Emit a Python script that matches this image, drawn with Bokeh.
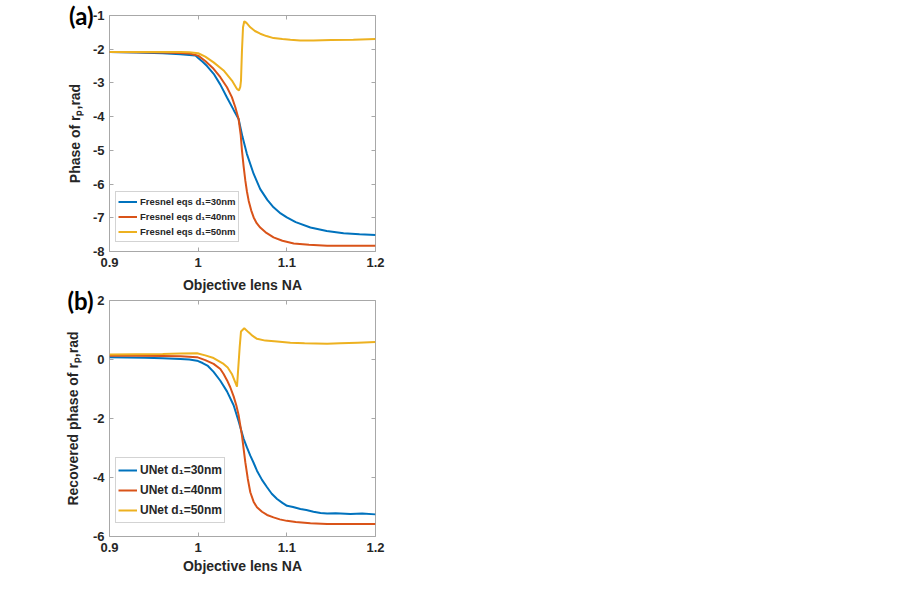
from bokeh.plotting import figure
from bokeh.models import LinearAxis, Legend, LegendItem, FixedTicker, Range1d
from bokeh.layouts import column
from bokeh.embed import file_html
from bokeh.resources import INLINE

# ---------------- data ----------------
x_ticks = [0.9, 1.0, 1.1, 1.2]
x_tick_labels = ["0.9", "1", "1.1", "1.2"]
ya_ticks = [-8, -7, -6, -5, -4, -3, -2, -1]
ya_tick_labels = ["-8", "-7", "-6", "-5", "-4", "-3", "-2", "-1"]
yb_ticks = [-6, -4, -2, 0, 2]
yb_tick_labels = ["-6", "-4", "-2", "0", "2"]
x_title = "Objective lens NA"

# (a) Fresnel equations
xa_30 = [0.90, 0.93, 0.96, 0.98, 0.99, 0.997, 1.000, 1.005, 1.010, 1.0175, 1.025, 1.0325, 1.040, 1.0456,
         1.050, 1.055, 1.0626, 1.070, 1.078, 1.085, 1.093, 1.100, 1.110, 1.1266, 1.145, 1.164, 1.182, 1.200]
ya_30 = [-2.08, -2.10, -2.12, -2.15, -2.17, -2.19, -2.26, -2.37, -2.50, -2.73, -3.05, -3.43, -3.80, -4.07,
         -4.60, -5.11, -5.70, -6.15, -6.47, -6.69, -6.87, -6.99, -7.13, -7.29, -7.39, -7.46, -7.49, -7.51]

xa_40 = [0.90, 0.93, 0.96, 0.98, 0.99, 1.000, 1.008, 1.0174, 1.025, 1.0325, 1.038, 1.0419, 1.0456, 1.048,
         1.0494, 1.0513, 1.0532, 1.055, 1.057, 1.0598, 1.0626, 1.066, 1.070, 1.077, 1.085, 1.095, 1.1078,
         1.125, 1.1454, 1.17, 1.20]
ya_40 = [-2.08, -2.09, -2.10, -2.11, -2.13, -2.19, -2.35, -2.58, -2.83, -3.13, -3.42, -3.72, -4.07, -4.55,
         -5.01, -5.48, -5.90, -6.22, -6.50, -6.78, -6.99, -7.16, -7.29, -7.45, -7.58, -7.68, -7.76,
         -7.80, -7.83, -7.83, -7.83]

xa_50 = [0.90, 0.93, 0.96, 0.98, 0.99, 1.000, 1.008, 1.0174, 1.0287, 1.0381, 1.0438, 1.046, 1.0475, 1.0483,
         1.0494, 1.0506, 1.052, 1.0545, 1.0588, 1.064, 1.070, 1.077, 1.085, 1.095, 1.104, 1.115, 1.13,
         1.15, 1.175, 1.20]
ya_50 = [-2.08, -2.08, -2.08, -2.08, -2.09, -2.12, -2.22, -2.39, -2.63, -2.93, -3.18, -3.22, -3.12, -2.93,
         -2.04, -1.35, -1.17, -1.22, -1.35, -1.46, -1.54, -1.61, -1.67, -1.70, -1.72, -1.74, -1.74,
         -1.73, -1.72, -1.70]

# (b) UNet recovered phase
xb_30 = [0.90, 0.92, 0.94, 0.96, 0.98, 0.990, 0.9987, 1.005, 1.011, 1.0174, 1.025, 1.0325, 1.040, 1.0457,
         1.0513, 1.0550, 1.0588, 1.0625, 1.0663, 1.072, 1.0777, 1.083, 1.089, 1.095, 1.1002, 1.107, 1.1153,
         1.122, 1.130, 1.138, 1.1454, 1.155, 1.1717, 1.185, 1.200]
yb_30 = [0.08, 0.07, 0.06, 0.04, 0.02, 0.00, -0.04, -0.12, -0.22, -0.42, -0.72, -1.08, -1.55, -2.10,
         -2.69, -2.98, -3.26, -3.50, -3.77, -4.08, -4.33, -4.55, -4.73, -4.86, -4.96, -5.00, -5.07,
         -5.10, -5.16, -5.20, -5.22, -5.21, -5.24, -5.22, -5.25]

xb_40 = [0.90, 0.93, 0.96, 0.98, 0.9987, 1.008, 1.0174, 1.025, 1.0287, 1.0325, 1.0362, 1.040, 1.043, 1.0457,
         1.0494, 1.0532, 1.056, 1.0588, 1.0625, 1.0663, 1.072, 1.0777, 1.085, 1.092, 1.100, 1.110, 1.1266,
         1.1454, 1.17, 1.20]
yb_40 = [0.13, 0.13, 0.12, 0.11, 0.08, -0.02, -0.15, -0.32, -0.49, -0.70, -0.94, -1.25, -1.55, -1.90,
         -2.58, -3.49, -4.05, -4.50, -4.82, -5.01, -5.16, -5.27, -5.35, -5.42, -5.47, -5.51, -5.55,
         -5.58, -5.58, -5.58]

xb_50 = [0.90, 0.93, 0.96, 0.98, 0.9987, 1.008, 1.0174, 1.0287, 1.0333, 1.038, 1.0438, 1.0468, 1.0483,
         1.052, 1.0569, 1.0615, 1.0663, 1.0757, 1.089, 1.104, 1.12, 1.1454, 1.16, 1.18, 1.20]
yb_50 = [0.17, 0.18, 0.19, 0.20, 0.21, 0.14, 0.05, -0.15, -0.27, -0.49, -0.92, 0.41, 0.95,
         1.06, 0.92, 0.80, 0.70, 0.64, 0.61, 0.57, 0.55, 0.53, 0.55, 0.57, 0.59]

labels_a = ["Fresnel eqs d\u2081=30nm", "Fresnel eqs d\u2081=40nm", "Fresnel eqs d\u2081=50nm"]
labels_b = ["UNet d\u2081=30nm", "UNet d\u2081=40nm", "UNet d\u2081=50nm"]
colors = ["#0072BD", "#D95319", "#EDB120"]

# ---------------- styling ----------------
FONT = "Liberation Sans"
TXT = "#262626"
BOX = "#a8a8a8"


def style_axes(p, yticks, ylabels, ylabel, panel_tag, bottom_title, top_title):
    p.xaxis.ticker = FixedTicker(ticks=x_ticks)
    p.xaxis.major_label_overrides = {t: s for t, s in zip(x_ticks, x_tick_labels)}
    p.yaxis.ticker = FixedTicker(ticks=yticks)
    p.yaxis.major_label_overrides = {t: s for t, s in zip(yticks, ylabels)}
    p.xaxis.axis_label = bottom_title
    for ax in (p.xaxis[0], p.yaxis[0]):
        ax.axis_line_color = None
        ax.major_tick_in = 4
        ax.major_tick_out = 0
        ax.major_tick_line_color = BOX
        ax.minor_tick_line_color = None
        ax.major_label_text_font = FONT
        ax.major_label_text_font_style = "bold"
        ax.major_label_text_font_size = "13px"
        ax.major_label_text_color = TXT
        ax.axis_label_text_font = FONT
        ax.axis_label_text_font_style = "bold"
        ax.axis_label_text_font_size = "14px"
        ax.axis_label_text_color = TXT
    p.xaxis.major_label_standoff = 6
    p.xaxis.axis_label_standoff = 3
    p.yaxis.major_label_standoff = 5
    # mirrored inward ticks on top / right (MATLAB "box on"), no tick labels.
    # The top axis of the lower panel carries the x title of the upper panel.
    for side, ticks, title in (("above", x_ticks, top_title), ("right", yticks, None)):
        ax = LinearAxis(ticker=FixedTicker(ticks=ticks),
                        major_label_overrides={t: "" for t in ticks},
                        major_label_text_color=None, major_label_text_font_size="1px",
                        major_label_standoff=0, axis_line_color=None, major_tick_in=4,
                        major_tick_out=0, major_tick_line_color=BOX, minor_tick_line_color=None,
                        axis_label=title, axis_label_standoff=8,
                        axis_label_text_font=FONT, axis_label_text_font_style="bold",
                        axis_label_text_font_size="14px", axis_label_text_color=TXT)
        p.add_layout(ax, side)
    # outer left axis: carries the panel tag "(a)"/"(b)" at the top tick and the y-axis title
    top = yticks[-1]
    tag = LinearAxis(ticker=FixedTicker(ticks=[top]), major_label_overrides={top: panel_tag},
                     major_label_text_font="Lato", major_label_text_font_style="bold",
                     major_label_text_font_size="24px", major_label_text_color="black",
                     major_label_standoff=-4, axis_line_color=None, major_tick_line_color=None,
                     minor_tick_line_color=None, major_tick_in=0, major_tick_out=0,
                     axis_label=ylabel, axis_label_standoff=-17,
                     axis_label_text_font=FONT, axis_label_text_font_style="bold",
                     axis_label_text_font_size="14px", axis_label_text_color=TXT)
    p.add_layout(tag, "left")
    p.grid.visible = False
    p.outline_line_color = BOX
    p.outline_line_width = 1


def add_legend(p, renderers, labels, font_size, row_h, loc):
    items = [LegendItem(label=l, renderers=[r]) for l, r in zip(labels, renderers)]
    leg = Legend(items=items, location=loc)
    leg.label_text_font = FONT
    leg.label_text_font_style = "bold"
    leg.label_text_font_size = font_size
    leg.label_text_color = TXT
    leg.glyph_width = 19
    leg.glyph_height = row_h
    leg.label_height = row_h
    leg.label_standoff = 3
    leg.spacing = 0
    leg.padding = 2
    leg.margin = 0
    leg.border_line_color = BOX
    leg.border_line_width = 1
    leg.background_fill_color = "white"
    leg.background_fill_alpha = 1.0
    p.add_layout(leg)


# ---------------- panel (a) ----------------
pa = figure(frame_width=266, frame_height=236, min_border_left=109, min_border_right=10,
            min_border_top=15, min_border_bottom=22,
            x_range=Range1d(0.9, 1.2), y_range=Range1d(-8, -1),
            output_backend="svg", toolbar_location=None)
style_axes(pa, ya_ticks, ya_tick_labels, "Phase of r\u209A,rad", "(a)", None, None)
ra = [pa.line(x, y, line_color=c, line_width=2)
      for x, y, c in zip([xa_30, xa_40, xa_50], [ya_30, ya_40, ya_50], colors)]
add_legend(pa, ra, labels_a, "9.5px", 15, (6, 9))

# ---------------- panel (b) ----------------
pb = figure(frame_width=266, frame_height=236, min_border_left=109, min_border_right=510,
            min_border_top=25, min_border_bottom=44,
            x_range=Range1d(0.9, 1.2), y_range=Range1d(-6, 2),
            output_backend="svg", toolbar_location=None)
style_axes(pb, yb_ticks, yb_tick_labels, "Recovered phase of r\u209A,rad", "(b)", x_title, x_title)
rb = [pb.line(x, y, line_color=c, line_width=2)
      for x, y, c in zip([xb_30, xb_40, xb_50], [yb_30, yb_40, yb_50], colors)]
add_legend(pb, rb, labels_b, "12px", 20, (6, 13))

layout = column(pa, pb, spacing=0)
open("out.html", "w").write(file_html(layout, INLINE))
